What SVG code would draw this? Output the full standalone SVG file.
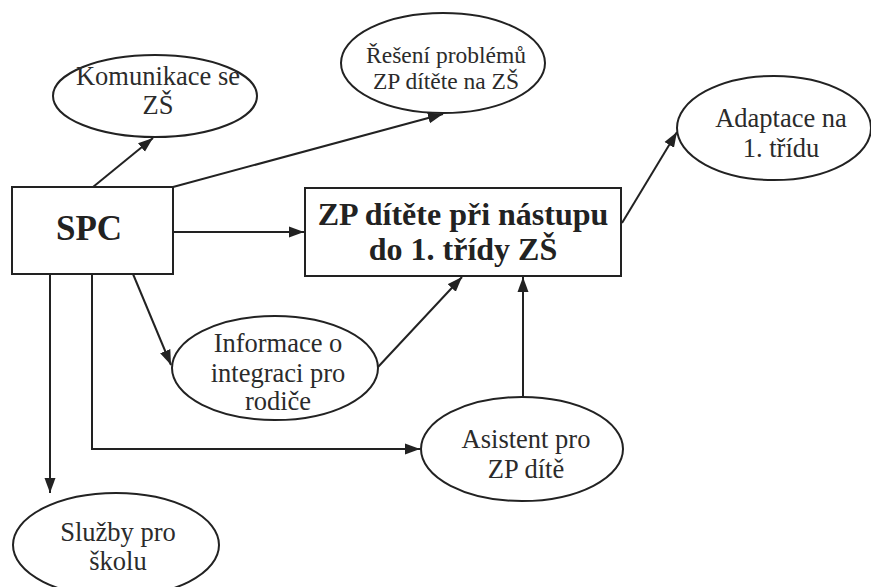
<svg xmlns="http://www.w3.org/2000/svg" width="871" height="587" viewBox="0 0 871 587">
  <style>
    .bg { fill: #ffffff; }
    .node { fill: #ffffff; stroke: #222222; stroke-width: 2; }
    .lbl { font-family: 'Liberation Serif', Tinos, 'Times New Roman', Times, 'DejaVu Serif', 'Noto Serif', serif; font-size: 26.5px; fill: #2b2b2b; text-anchor: middle; }
    .small { font-size: 23.5px; }
    .bold { font-weight: bold; fill: #222222; }
    .edge { fill: none; stroke: #222222; stroke-width: 2; marker-end: url(#arrow); }
  </style>
  <defs>
    <marker id="arrow" markerUnits="userSpaceOnUse" markerWidth="16" markerHeight="12" refX="15" refY="6" orient="auto">
      <path d="M0,0.5 L15,6 L0,11.5 Z" fill="#222222"/>
    </marker>
  </defs>
  <rect class="bg" x="0" y="0" width="871" height="587"/>

  <g id="connectors">
    <line class="edge" x1="93" y1="187" x2="153" y2="138"/>
    <line class="edge" x1="173" y1="187" x2="443" y2="114"/>
    <line class="edge" x1="173" y1="232" x2="304" y2="232"/>
    <line class="edge" x1="622" y1="223" x2="677" y2="132"/>
    <line class="edge" x1="133" y1="274" x2="171" y2="365"/>
    <line class="edge" x1="378" y1="367" x2="462" y2="277"/>
    <line class="edge" x1="523" y1="397" x2="523" y2="277"/>
    <polyline class="edge" points="92,274 92,449 420,449"/>
    <line class="edge" x1="50" y1="274" x2="50" y2="493"/>
  </g>

  <g id="spc">
    <rect class="node" x="12" y="187" width="161" height="87"/>
    <text class="lbl bold" x="89" y="240" style="font-size:35px">SPC</text>
  </g>

  <g id="zp-nastup">
    <rect class="node" x="305" y="188" width="316" height="88"/>
    <text class="lbl bold" x="463" y="225" style="font-size:32px">ZP dítěte při nástupu</text>
    <text class="lbl bold" x="463" y="260" style="font-size:32px">do 1. třídy ZŠ</text>
  </g>

  <g id="komunikace">
    <ellipse class="node" cx="155" cy="96" rx="102" ry="41"/>
    <text class="lbl" x="158" y="85">Komunikace se</text>
    <text class="lbl" x="158" y="114">ZŠ</text>
  </g>

  <g id="reseni">
    <ellipse class="node" cx="443" cy="63" rx="102" ry="50"/>
    <text class="lbl small" x="446" y="63">Řešení problémů</text>
    <text class="lbl small" x="446" y="89">ZP dítěte na ZŠ</text>
  </g>

  <g id="adaptace">
    <ellipse class="node" cx="774" cy="128" rx="97" ry="52"/>
    <text class="lbl" x="781" y="127">Adaptace na</text>
    <text class="lbl" x="781" y="157">1. třídu</text>
  </g>

  <g id="informace">
    <ellipse class="node" cx="275" cy="368" rx="103" ry="52"/>
    <text class="lbl" x="278" y="352">Informace o</text>
    <text class="lbl" x="278" y="382">integraci pro</text>
    <text class="lbl" x="278" y="410">rodiče</text>
  </g>

  <g id="asistent">
    <ellipse class="node" cx="522" cy="449" rx="101" ry="52"/>
    <text class="lbl" x="526" y="448">Asistent pro</text>
    <text class="lbl" x="526" y="478">ZP dítě</text>
  </g>

  <g id="sluzby">
    <ellipse class="node" cx="116" cy="545" rx="103" ry="52"/>
    <text class="lbl" x="118" y="541">Služby pro</text>
    <text class="lbl" x="118" y="570">školu</text>
  </g>
</svg>
